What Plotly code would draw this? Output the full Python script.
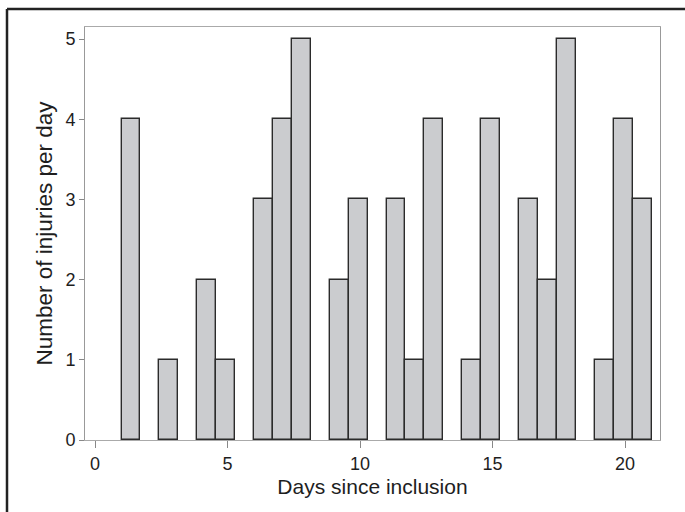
import numpy as np
import plotly.graph_objects as go

# Data: injuries per day since inclusion
days = [1, 2, 3, 4, 5, 6, 7, 8, 9, 10, 11, 12, 13, 14, 15, 16, 17, 18, 19, 20, 21]
injuries = [4, 0, 1, 2, 1, 3, 4, 5, 2, 3, 3, 1, 4, 1, 4, 3, 2, 5, 1, 4, 3]
n_bins = 28
x_ticks = [0, 5, 10, 15, 20]
y_ticks = [0, 1, 2, 3, 4, 5]

# Histogram binning (Stata-style: 28 bins from min to max)
d = np.array(days, dtype=float)
lo, hi = d.min(), d.max()
w = (hi - lo) / n_bins
idx = np.minimum(np.floor((d - lo) / w + 1e-9), n_bins - 1)
counts = np.zeros(n_bins)
for i, v in zip(idx.astype(int), injuries):
    counts[i] += v
centers = lo + (np.arange(n_bins) + 0.5) * w
mask = counts > 0

fig = go.Figure(go.Bar(
    x=centers[mask], y=counts[mask], width=w,
    marker=dict(color="#cbcccf", line=dict(color="#2b2b2b", width=1.4)),
))

L, R, T, B = 85, 660, 27, 440
W, H = 685, 512

def px(xp):
    return (xp - L) / (R - L)

def py(yp):
    return (B - yp) / (B - T)

fig.update_layout(
    width=W, height=H,
    margin=dict(l=L, r=W - R, t=T, b=H - B, pad=0),
    plot_bgcolor="white", paper_bgcolor="white",
    showlegend=False,
    bargap=0,
    font=dict(family="Liberation Sans, Arial, sans-serif", size=18, color="#1e1e1e"),
    xaxis=dict(
        range=[-0.38, 21.32], tickvals=x_ticks, showgrid=False, zeroline=False,
        ticks="outside", ticklen=7, tickcolor="#888", tickwidth=1,
        showline=True, linecolor="#aaa", linewidth=1, mirror=True,
        title=dict(text="Days since inclusion", font=dict(size=21), standoff=6),
        tickfont=dict(size=18),
    ),
    yaxis=dict(
        range=[0, 5.15], tickvals=y_ticks, showgrid=False, zeroline=False,
        ticks="outside", ticklen=5, tickcolor="#888", tickwidth=1,
        showline=True, linecolor="#999", linewidth=1, mirror=True,
        title=dict(text="Number of injuries per day", font=dict(size=22.5), standoff=6),
        tickfont=dict(size=18),
    ),
    shapes=[
        dict(type="line", xref="paper", yref="paper",
             x0=px(7), x1=px(700), y0=py(9), y1=py(9),
             line=dict(color="#222", width=2.5)),
        dict(type="line", xref="paper", yref="paper",
             x0=px(7), x1=px(7), y0=py(9), y1=py(530),
             line=dict(color="#222", width=2.5)),
    ],
)

fig.write_html("out.html", config={"displayModeBar": False},
               post_script="document.body.style.margin='0px';")
